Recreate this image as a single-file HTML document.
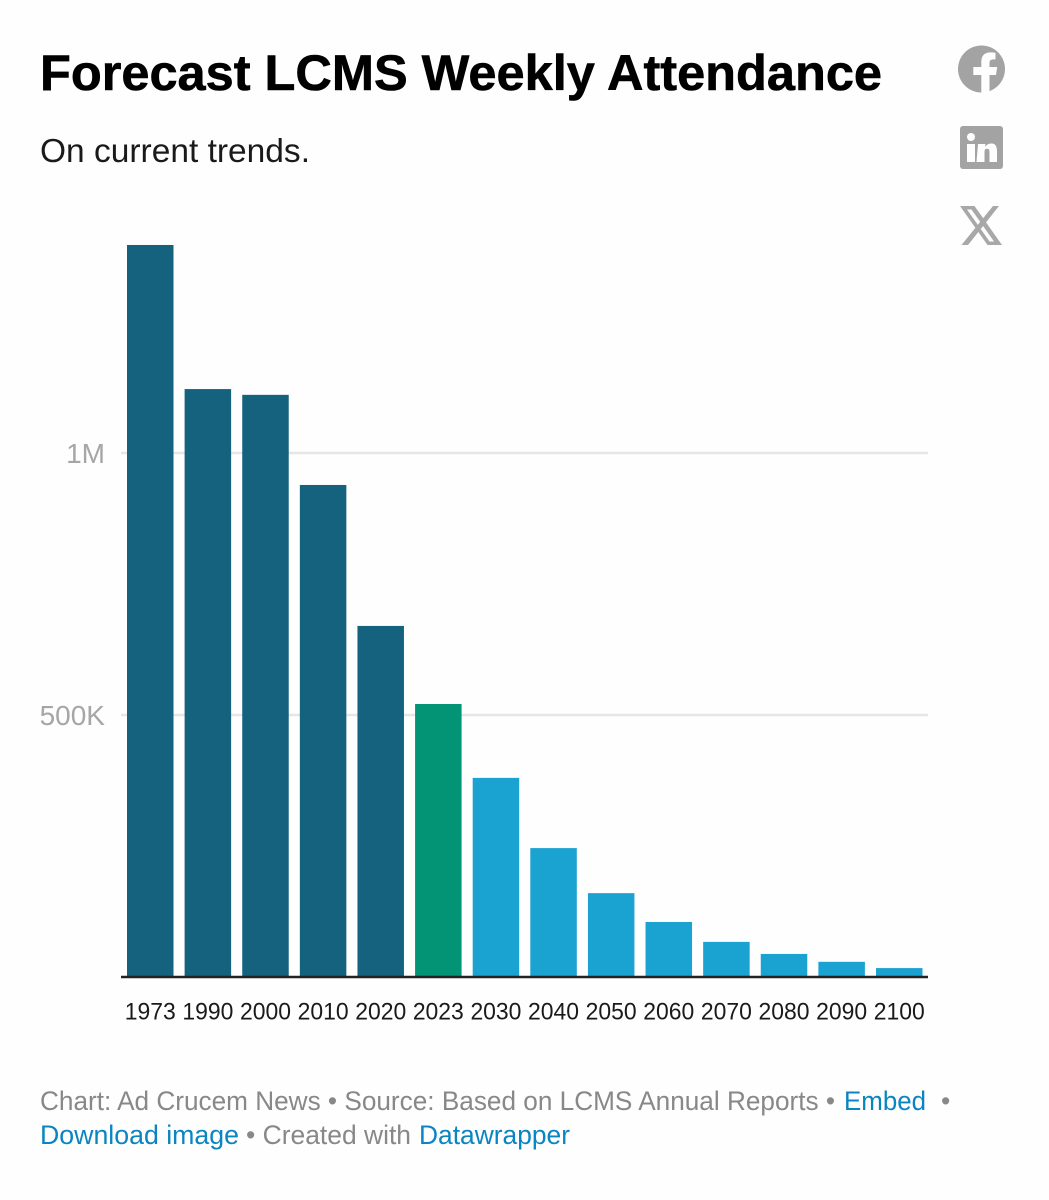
<!DOCTYPE html>
<html lang="en">
<head>
<meta charset="utf-8">
<title>Forecast LCMS Weekly Attendance</title>
<style>
html,body{margin:0;padding:0;background:#fff;}
body{width:1049px;height:1200px;overflow:hidden;}
svg{display:block;font-family:"Liberation Sans",sans-serif;}
a{cursor:pointer;}
</style>
</head>
<body>
<svg id="chart" width="1049" height="1200" viewBox="0 0 1049 1200" xmlns="http://www.w3.org/2000/svg">
  <rect width="1049" height="1200" fill="#fefefe"/>
  <text x="40" y="90" font-size="50" font-weight="700" fill="#000" stroke="#000" stroke-width="0.6" textLength="842" lengthAdjust="spacingAndGlyphs">Forecast LCMS Weekly Attendance</text>
  <text x="40" y="162" font-size="33" fill="#1a1a1a" textLength="270" lengthAdjust="spacingAndGlyphs">On current trends.</text>

  <g>
    <circle cx="981.5" cy="69" r="23.5" fill="#a3a3a3"/>
    <path d="M989.5 92.5V75h6.500l1.200-8h-7.700v-4c0-2.200 1-3.600 4-3.600h2v-6.600c-1.500-.2-3.300-.4-5.200-.4-5.500 0-9 3.300-9 9.400v5.200h-8v8h8v17.500z" fill="#fefefe"/>
  </g>
  <g>
    <rect x="960" y="126" width="43" height="43" rx="3" fill="#a3a3a3"/>
    <rect x="967" y="144" width="8" height="18" fill="#fefefe"/>
    <circle cx="971" cy="137" r="4" fill="#fefefe"/>
    <path d="M978 144h7.300v2.800c1.200-2 3.300-3.300 6-3.300 4.500 0 5.700 3 5.700 8.500v10h-7.500v-9.500c0-2.700-.6-3.800-2.500-3.800-2.400 0-2.500 1.600-2.500 4.500v8.800h-8z" fill="#fefefe"/>
  </g>
  <g>
    <path d="M960 206h14.500L1002 245h-14.500zM967 209.500L989.500 241.500h4.500L971.500 209.500z" fill="#a8a8a8" fill-rule="evenodd"/>
    <path d="M993 206h6L968 245h-6.500z" fill="#a8a8a8"/>
  </g>

  <g id="grid"></g>
  <g id="y-labels"></g>
  <g id="bars"></g>
  <line id="baseline" x1="121" x2="928" stroke="#222" stroke-width="2.500"/>
  <g id="x-labels"></g>

  <text x="40" y="1110" font-size="26.500" fill="#888">
    <tspan x="40" textLength="795" lengthAdjust="spacingAndGlyphs">Chart: Ad Crucem News • Source: Based on LCMS Annual Reports •</tspan>
    <tspan x="844" fill="#0a85c2" textLength="82" lengthAdjust="spacingAndGlyphs">Embed</tspan>
    <tspan x="941">•</tspan>
  </text>
  <text x="40" y="1144" font-size="26.500" fill="#888">
    <tspan x="40" fill="#0a85c2" textLength="199" lengthAdjust="spacingAndGlyphs">Download image</tspan>
    <tspan x="246" textLength="165" lengthAdjust="spacingAndGlyphs">• Created with</tspan>
    <tspan x="419" fill="#0a85c2" textLength="151" lengthAdjust="spacingAndGlyphs">Datawrapper</tspan>
  </text>
</svg>
<script>
const categories = ["1973","1990","2000","2010","2020","2023","2030","2040","2050","2060","2070","2080","2090","2100"];
const attendance = [1397000,1122000,1111000,939000,670000,521000,380000,246000,160000,105000,67000,44000,29000,17000];
const barKinds = ["past","past","past","past","past","current","forecast","forecast","forecast","forecast","forecast","forecast","forecast","forecast"];
const yTickValues = [500000,1000000];
const yTickLabels = ["500K","1M"];

const NS = "http://www.w3.org/2000/svg";
const colorFor = {past:"#15627e", current:"#039375", forecast:"#1aa2d0"};
const baseY = 977;
const pxPerUnit = 524 / 1000000;
const firstX = 127;
const stepX = (876 - 127) / 13;
const barW = 46.500;
function yScale(v){ return baseY - v * pxPerUnit; }
function xScale(i){ return firstX + i * stepX; }

const grid = document.getElementById("grid");
const yLabels = document.getElementById("y-labels");
yTickValues.forEach(function(v, i){
  const line = document.createElementNS(NS, "line");
  
  
  line.setAttribute("x1", 121);
  line.setAttribute("x2", 928);
  line.setAttribute("y1", yScale(v));
  line.setAttribute("y2", yScale(v));
  line.setAttribute("stroke", "#e6e6e6");
  line.setAttribute("stroke-width", 2.500);
  grid.appendChild(line);
  const t = document.createElementNS(NS, "text");
  
  
  t.setAttribute("x", 105);
  t.setAttribute("y", yScale(v) + 10);
  t.setAttribute("text-anchor", "end");
  t.setAttribute("font-size", 28);
  t.setAttribute("fill", "#a6a6a6");
  t.textContent = yTickLabels[i];
  yLabels.appendChild(t);
});

const bars = document.getElementById("bars");
const xLabels = document.getElementById("x-labels");
categories.forEach(function(c, i){
  const r = document.createElementNS(NS, "rect");
  
  
  r.setAttribute("x", xScale(i));
  r.setAttribute("width", barW);
  r.setAttribute("y", yScale(attendance[i]));
  r.setAttribute("height", baseY - yScale(attendance[i]));
  r.setAttribute("fill", colorFor[barKinds[i]]);
  bars.appendChild(r);
  const t = document.createElementNS(NS, "text");
  
  
  t.setAttribute("x", xScale(i) + barW / 2);
  t.setAttribute("y", 1019.5);
  t.setAttribute("text-anchor", "middle");
  t.setAttribute("font-size", 24.500);
  t.setAttribute("fill", "#1a1a1a");
  t.setAttribute("textLength", 51);
  t.setAttribute("lengthAdjust", "spacingAndGlyphs");
  t.textContent = c;
  xLabels.appendChild(t);
});
document.getElementById("baseline").setAttribute("y1", baseY);
document.getElementById("baseline").setAttribute("y2", baseY);
</script>
</body>
</html>
